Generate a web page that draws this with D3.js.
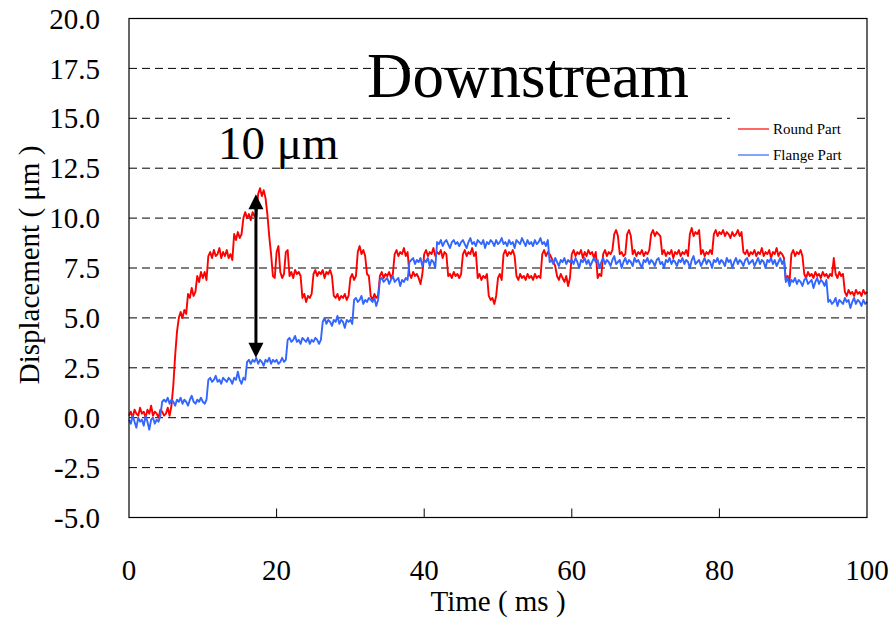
<!DOCTYPE html>
<html><head><meta charset="utf-8">
<script src="https://cdn.jsdelivr.net/npm/d3@7"></script>
<style>body{margin:0;background:#fff}svg{display:block}text{font-family:"Liberation Serif","Times New Roman",serif;fill:#000}</style>
</head><body><svg id="c" width="889" height="620"></svg>
<script>
// time step 0.25 ms, t = 0 .. 100
const tStep = 0.25;
const roundPart = [
0.1,0.3,0.0,0.4,0.2,0.1,0.5,0.2,0.3,0.0,0.4,0.2,0.6,0.1,0.3,0.2,0.0,0.4,0.3,0.1,
0.2,0.5,0.1,0.6,1.6,3.1,4.3,5.0,5.3,5.0,5.4,5.2,6.2,6.0,6.5,6.1,6.3,7.1,6.8,7.3,
7.0,7.3,6.9,8.1,8.3,8.0,8.4,8.1,8.2,8.5,8.0,8.3,8.1,8.4,8.0,8.2,7.9,9.2,8.9,9.3,
9.0,9.2,10.0,10.3,10.0,10.2,9.9,10.3,10.1,10.0,11.2,11.5,11.1,11.4,11.0,10.2,9.1,8.2,7.1,7.0,
8.3,8.6,7.3,7.0,7.2,8.3,8.4,7.1,7.3,7.0,7.4,7.2,7.3,7.1,6.0,6.2,5.8,6.1,6.0,6.2,
7.2,7.4,7.1,7.3,7.2,7.4,7.0,7.3,7.2,7.4,7.1,6.1,6.0,6.2,5.9,6.1,6.0,6.2,5.9,6.1,
7.0,7.2,6.9,7.1,8.3,8.6,8.2,8.4,8.1,7.2,7.1,6.1,5.9,6.2,6.0,6.1,7.1,7.3,7.0,7.2,
7.1,7.3,7.0,7.2,8.2,8.4,8.1,8.3,8.2,8.5,8.1,8.3,7.2,7.0,7.3,7.1,7.2,7.0,6.7,7.2,
8.2,8.4,8.1,8.3,8.2,8.5,8.1,8.3,8.2,8.4,8.0,8.3,8.2,7.1,7.2,7.0,7.3,7.1,7.2,7.0,
7.2,8.2,8.4,8.1,8.3,8.2,8.5,8.1,8.3,7.0,7.2,6.9,7.1,7.0,7.2,6.1,5.9,6.0,5.7,6.1,
7.0,7.2,6.9,8.2,8.4,8.1,8.3,8.2,8.4,8.1,7.1,6.9,7.2,7.0,7.1,6.9,7.2,7.0,7.1,6.9,
7.2,7.0,7.1,7.0,8.2,8.4,8.1,8.3,8.2,8.0,7.8,7.6,7.1,6.9,7.2,7.0,6.8,7.1,6.6,7.0,
8.2,8.4,8.1,8.3,8.2,8.4,8.0,8.3,8.1,8.4,8.2,8.3,8.0,8.3,7.0,7.2,7.1,8.2,8.4,8.1,
8.3,8.2,8.4,9.2,9.4,9.1,8.2,8.3,8.1,8.2,9.2,9.4,9.1,8.2,8.4,8.1,8.3,8.2,8.4,8.1,
8.3,8.2,8.4,9.2,9.4,9.1,9.3,9.2,9.1,8.2,8.4,8.1,8.3,8.2,8.4,8.0,8.3,8.2,8.4,8.1,
8.3,8.2,8.4,8.1,9.2,9.5,9.1,9.3,9.2,9.4,8.2,8.4,8.1,8.3,8.2,8.4,8.2,9.2,9.4,9.1,
9.3,9.2,9.4,9.1,9.3,9.2,9.0,9.3,9.1,9.2,9.4,9.1,9.3,8.3,8.2,8.4,8.1,8.3,8.2,8.4,
8.1,8.3,8.2,8.5,8.1,8.3,8.2,8.4,8.0,8.3,8.2,8.5,8.1,8.3,8.2,8.0,6.9,7.1,6.8,8.2,
8.4,8.1,8.3,8.2,8.4,8.1,7.2,7.0,7.3,7.1,7.2,7.0,7.3,7.1,7.2,7.0,7.3,7.1,7.2,7.0,
7.2,7.1,8.0,7.2,7.0,7.3,7.1,7.2,6.3,6.1,6.4,6.2,6.3,6.1,6.4,6.2,6.3,6.1,6.4,6.2,
6.3];
const flangePart = [
-0.1,-0.3,0.1,-0.2,-0.5,0.0,-0.2,-0.1,-0.4,0.1,-0.2,-0.6,-0.1,0.0,-0.3,-0.1,-0.2,0.1,0.8,0.9,
0.8,1.0,0.7,0.9,0.8,0.6,0.9,0.8,1.0,0.7,0.9,0.8,0.6,0.9,1.1,0.8,0.7,0.9,0.8,1.0,
0.8,0.7,0.9,1.9,2.0,1.8,1.9,2.1,1.8,1.9,1.7,2.0,1.9,1.8,2.0,1.9,1.7,2.0,1.9,2.3,
1.9,1.7,2.0,1.9,2.8,2.9,2.7,2.9,2.8,3.0,2.7,2.9,2.8,2.6,2.9,2.8,3.0,2.7,2.9,2.8,
2.9,2.7,2.8,3.0,2.8,2.9,3.9,4.0,3.8,3.9,4.1,3.8,3.9,3.7,4.0,3.9,3.8,4.0,3.7,3.9,
3.8,4.0,3.9,3.7,3.9,4.8,5.0,4.7,4.9,4.8,4.6,4.9,4.8,5.1,4.7,4.9,4.8,4.5,4.9,4.8,
4.9,4.7,5.9,6.0,5.8,5.9,6.1,5.7,5.9,5.8,6.0,5.9,5.8,6.0,5.6,5.9,6.9,7.0,6.8,6.9,
7.0,6.7,6.9,7.1,6.8,6.9,7.0,6.6,6.9,6.8,7.0,6.9,7.8,7.9,8.0,7.7,7.9,7.8,8.0,7.6,
7.9,7.8,8.0,7.6,7.9,7.8,7.5,8.8,8.7,8.9,8.6,8.8,8.9,8.7,8.5,8.8,8.9,8.7,8.8,8.6,
8.8,8.9,8.7,8.5,8.8,9.0,8.7,8.8,8.6,8.9,8.8,8.7,8.9,8.5,8.8,8.7,8.9,8.8,8.6,8.9,
8.7,8.8,9.0,8.7,8.8,8.6,8.9,8.7,8.8,8.5,8.9,8.8,8.7,9.0,8.8,8.6,8.9,8.7,8.8,8.6,
8.9,8.7,8.8,9.0,8.7,8.8,8.6,8.9,7.8,7.9,7.7,8.0,7.8,7.6,7.9,7.8,8.0,7.7,7.9,7.8,
7.9,7.7,8.0,7.8,7.5,7.9,7.8,8.0,7.7,7.9,7.6,7.8,8.0,7.8,7.9,7.5,7.8,8.0,7.7,7.9,
7.8,7.6,7.9,8.1,7.7,7.8,7.9,7.5,7.8,8.0,7.7,7.9,7.8,7.6,8.0,7.8,7.9,7.7,7.5,7.9,
7.8,8.0,7.7,7.9,7.8,7.6,7.9,8.0,7.7,7.8,7.5,7.9,7.8,8.0,7.7,7.9,7.8,7.6,7.9,7.8,
8.0,7.7,7.9,7.8,7.5,7.9,8.1,7.7,7.8,7.9,7.6,7.8,8.0,7.7,7.9,7.8,7.5,7.9,7.8,8.0,
7.7,7.9,7.8,7.6,8.0,7.8,7.9,7.5,7.8,8.0,7.7,7.9,7.8,7.6,7.9,8.0,7.7,7.8,7.9,7.6,
7.8,8.0,7.7,7.9,7.8,7.5,7.9,7.8,8.0,7.7,7.9,7.6,7.8,8.0,7.7,7.9,6.8,7.0,6.6,6.9,
6.8,7.0,6.7,6.9,6.8,6.6,6.9,7.0,6.7,6.8,6.9,6.5,6.8,7.0,6.7,6.9,6.8,6.6,6.9,5.8,
5.9,5.7,5.8,6.0,5.6,5.9,5.8,5.7,6.0,5.8,5.9,5.5,5.8,6.0,5.7,5.9,5.8,5.6,5.9,5.7,
5.8];
const xTicks = [0, 20, 40, 60, 80, 100];
const yTicks = [-5, -2.5, 0, 2.5, 5, 7.5, 10, 12.5, 15, 17.5, 20];
const seriesNames = ["Round Part", "Flange Part"];
const seriesColors = ["#ff0000", "#3366ff"];
const arrowAnno = {t: 17.2, from: 3.0, to: 11.2, label: "10 μm"};

const svg = d3.select("#c");
const x = d3.scaleLinear().domain([0, 100]).range([129, 867]);
const y = d3.scaleLinear().domain([-5, 20]).range([517.5, 18.5]);

// gridlines
svg.append("g").selectAll("line").data(yTicks.filter(v => v > -5 && v < 20)).join("line")
  .attr("x1", x(0)).attr("x2", x(100)).attr("y1", d => y(d)).attr("y2", d => y(d))
  .attr("stroke", "#000").attr("stroke-width", 1).attr("stroke-dasharray", "8,5");

// legend background (covers gridline)
svg.append("rect").attr("x", 730).attr("y", 112).attr("width", 124).attr("height", 50).attr("fill", "#fff");

// series
const line = d3.line().x((d, i) => x(i * tStep)).y(d => y(d));
[roundPart, flangePart].forEach((s, k) => {
  svg.append("path").datum(s).attr("d", line).attr("fill", "none")
    .attr("stroke", seriesColors[k]).attr("stroke-width", 1.9).attr("stroke-linejoin", "round");
});

// frame
svg.append("rect").attr("x", x(0)).attr("y", y(20)).attr("width", x(100) - x(0)).attr("height", y(-5) - y(20))
  .attr("fill", "none").attr("stroke", "#000").attr("stroke-width", 1.2);

// x ticks (inward)
svg.append("g").selectAll("line").data(xTicks.slice(1, -1)).join("line")
  .attr("x1", d => x(d)).attr("x2", d => x(d)).attr("y1", y(-5)).attr("y2", y(-5) - 9)
  .attr("stroke", "#000").attr("stroke-width", 1);

// tick labels
const fmtY = d => d3.format(".1f")(d).replace("\u2212", "-");
svg.append("g").selectAll("text").data(xTicks).join("text")
  .attr("x", d => x(d)).attr("y", 580).attr("text-anchor", "middle").attr("font-size", 29)
  .text(d => d3.format("d")(d));
svg.append("g").selectAll("text").data(yTicks).join("text")
  .attr("x", 100).attr("y", d => y(d)).attr("dy", "0.35em").attr("text-anchor", "end").attr("font-size", 29)
  .text(fmtY);

// axis titles
svg.append("text").attr("x", (x(0) + x(100)) / 2).attr("y", 611).attr("text-anchor", "middle")
  .attr("font-size", 29).text("Time ( ms )");
svg.append("text").attr("transform", "translate(39," + 265 + ") rotate(-90)").attr("text-anchor", "middle")
  .attr("font-size", 29).text("Displacement ( μm )");

// title
svg.append("text").attr("x", 528).attr("y", 97).attr("text-anchor", "middle").attr("font-size", 63).text("Downstream");

// arrow annotation
const ax = x(arrowAnno.t), yTop = y(arrowAnno.to), yBot = y(arrowAnno.from);
svg.append("line").attr("x1", ax).attr("x2", ax).attr("y1", yTop + 12).attr("y2", yBot - 12)
  .attr("stroke", "#000").attr("stroke-width", 3);
svg.append("path").attr("d", `M${ax},${yTop} L${ax - 7.5},${yTop + 15} L${ax + 7.5},${yTop + 15} Z`).attr("fill", "#000");
svg.append("path").attr("d", `M${ax},${yBot} L${ax - 7.5},${yBot - 15} L${ax + 7.5},${yBot - 15} Z`).attr("fill", "#000");
svg.append("text").attr("x", 218).attr("y", 159).attr("font-size", 47).text(arrowAnno.label);

// legend
seriesNames.forEach((n, k) => {
  const ly = 129 + k * 26;
  svg.append("line").attr("x1", 738).attr("x2", 769).attr("y1", ly).attr("y2", ly)
    .attr("stroke", seriesColors[k]).attr("stroke-width", 1.2);
  svg.append("text").attr("x", 773).attr("y", ly + 5).attr("font-size", 15).text(n);
});
</script></body></html>
